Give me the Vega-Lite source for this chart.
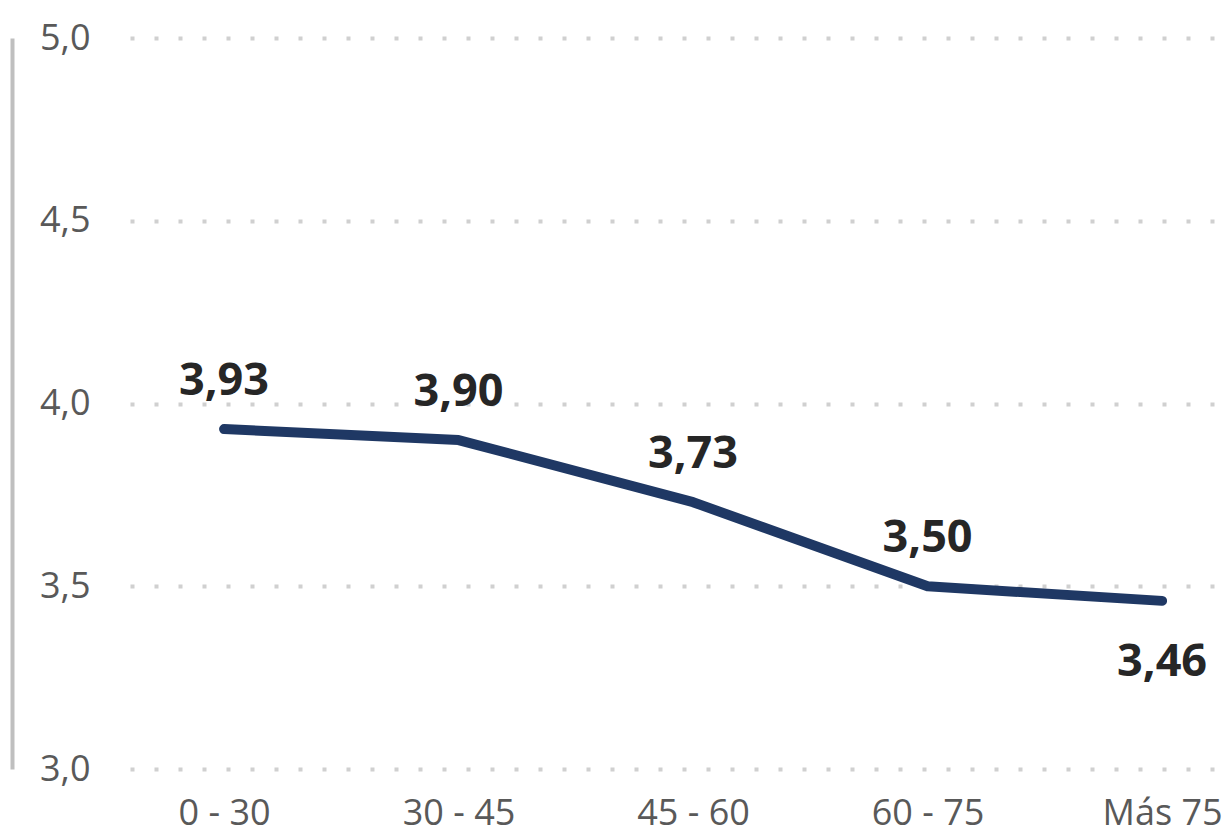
{
  "$schema": "https://vega.github.io/schema/vega-lite/v6.json",
  "width": 1085,
  "height": 731,
  "autosize": {"type": "none"},
  "padding": {"left": 130, "top": 38, "right": 15, "bottom": 64},
  "background": "white",
  "config": {
    "view": {"stroke": null},
    "font": "Open Sans",
    "locale": {"number": {"decimal": ",", "thousands": ".", "grouping": [3], "currency": ["", " €"]}}
  },
  "data": {
    "values": [
      {"grupo": "0 - 30", "valor": 3.93},
      {"grupo": "30 - 45", "valor": 3.90},
      {"grupo": "45 - 60", "valor": 3.73},
      {"grupo": "60 - 75", "valor": 3.50},
      {"grupo": "Más 75", "valor": 3.46}
    ]
  },
  "encoding": {
    "x": {
      "field": "grupo",
      "type": "ordinal",
      "sort": null,
      "scale": {"type": "point", "padding": 0.3134, "align": 0.64},
      "axis": {
        "title": null,
        "domain": false,
        "ticks": false,
        "grid": false,
        "labelAngle": 0,
        "labelFont": "Open Sans",
        "labelFontSize": 36,
        "labelColor": "#595959",
        "labelPadding": 27
      }
    },
    "y": {
      "field": "valor",
      "type": "quantitative",
      "scale": {"domain": [3, 5], "nice": false, "zero": false}
    }
  },
  "layer": [
    {
      "mark": {"type": "line", "color": "#1f3864", "strokeWidth": 10, "strokeCap": "round", "strokeJoin": "round"},
      "encoding": {
        "y": {
          "field": "valor",
          "type": "quantitative",
          "scale": {"domain": [3, 5], "nice": false, "zero": false},
          "axis": {
            "title": null,
            "orient": "left",
            "values": [3, 3.5, 4, 4.5, 5],
            "format": ".1f",
            "domain": false,
            "ticks": false,
            "labelFont": "Open Sans",
            "labelFontSize": 36,
            "labelColor": "#595959",
            "labelPadding": 40,
            "grid": true,
            "gridColor": "#d0d0d0",
            "gridWidth": 4,
            "gridDash": [4, 20]
          }
        }
      }
    },
    {
      "transform": [{"filter": "datum.grupo !== 'Más 75'"}],
      "mark": {"type": "text", "font": "Open Sans", "fontSize": 45, "fontWeight": "bold", "color": "#262626", "baseline": "alphabetic", "dy": -34},
      "encoding": {
        "y": {
          "field": "valor",
          "type": "quantitative",
          "scale": {"domain": [3, 5], "nice": false, "zero": false},
          "axis": {
            "title": null,
            "orient": "left",
            "offset": 118,
            "labels": false,
            "ticks": false,
            "grid": false,
            "domain": true,
            "domainColor": "#bfbfbf",
            "domainWidth": 4
          }
        },
        "text": {"field": "valor", "type": "quantitative", "format": ".2f"}
      }
    },
    {
      "transform": [{"filter": "datum.grupo === 'Más 75'"}],
      "mark": {"type": "text", "font": "Open Sans", "fontSize": 45, "fontWeight": "bold", "color": "#262626", "baseline": "alphabetic", "dy": 75},
      "encoding": {
        "y": {
          "field": "valor",
          "type": "quantitative",
          "scale": {"domain": [3, 5], "nice": false, "zero": false},
          "axis": null
        },
        "text": {"field": "valor", "type": "quantitative", "format": ".2f"}
      }
    }
  ],
  "resolve": {"axis": {"y": "independent"}}
}
